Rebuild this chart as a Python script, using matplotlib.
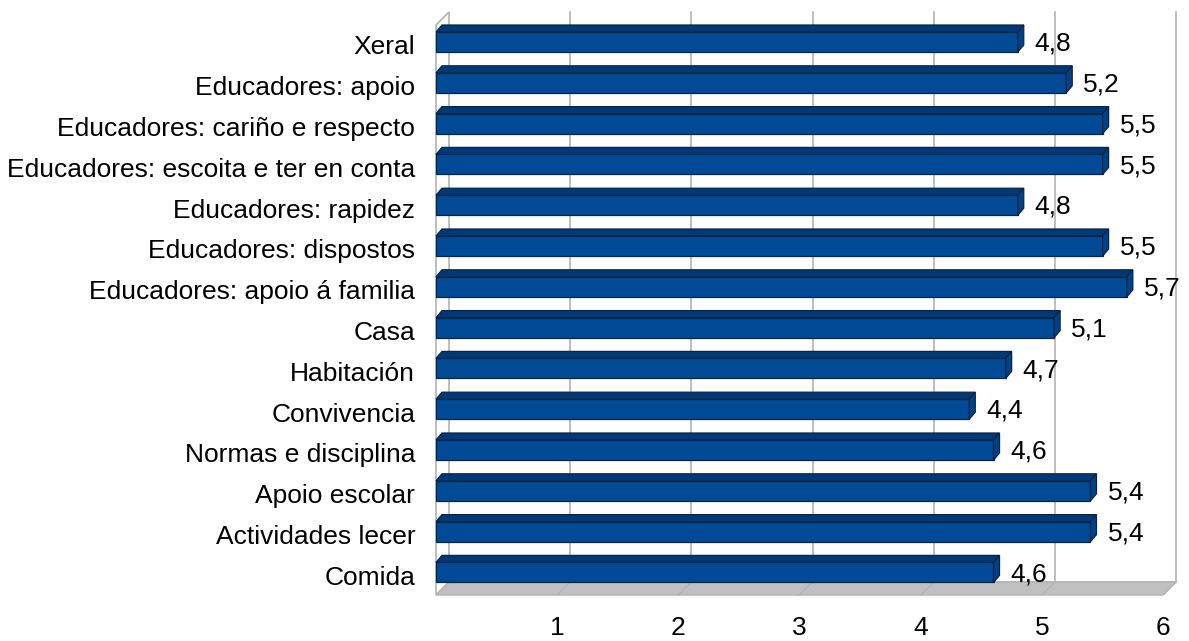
import matplotlib
matplotlib.use('Agg')
import matplotlib.pyplot as plt
from matplotlib.patches import Polygon, Rectangle

categorias = ['Xeral', 'Educadores: apoio', 'Educadores: cariño e respecto',
              'Educadores: escoita e ter en conta', 'Educadores: rapidez',
              'Educadores: dispostos', 'Educadores: apoio á familia', 'Casa',
              'Habitación', 'Convivencia', 'Normas e disciplina', 'Apoio escolar',
              'Actividades lecer', 'Comida']
valores = [4.8, 5.2, 5.5, 5.5, 4.8, 5.5, 5.7, 5.1, 4.7, 4.4, 4.6, 5.4, 5.4, 4.6]
ticks_x = [1, 2, 3, 4, 5, 6]

plt.rcParams['font.family'] = ['Liberation Sans', 'DejaVu Sans']
FS = 19

W, H = 1189, 641
fig = plt.figure(figsize=(W / 100, H / 100), dpi=100)

# eixo: orixe x en 436 px, 121.2 px por unidade; categorías cada 40.8 px
x0_px, sx = 436, 121.2
y0_px, sy = 42, 40.8
top_px, bot_px = 12, 595
ax = fig.add_axes([x0_px / W, 1 - bot_px / H, 6 * sx / W, (bot_px - top_px) / H])
y_top = (top_px - y0_px) / sy
y_bot = (bot_px - y0_px) / sy
ax.set_xlim(0, 6)
ax.set_ylim(y_bot, y_top)

# profundidade da parede e das barras
wdx, wdy = 13 / sx, 13 / sy
bdx, bdy = 6 / sx, 7 / sy
h = 20 / sy

grid_c = '#b3b3b3'
yb = y_bot - wdy
# parede do fondo
ax.add_patch(Rectangle((wdx, y_top), 6, yb - y_top, facecolor='white',
                       edgecolor='none', clip_on=False, zorder=0))
for k in ticks_x:
    ax.plot([k + wdx, k + wdx], [y_top, yb], color=grid_c, lw=1.2,
            clip_on=False, zorder=1)
ax.plot([wdx, 6 + wdx], [yb, yb], color=grid_c, lw=1.2, clip_on=False, zorder=1)
# parede esquerda
ax.add_patch(Polygon([(0, y_top + wdy), (wdx, y_top), (wdx, yb), (0, y_bot)],
                     closed=True, facecolor='white', edgecolor=grid_c, lw=1.2,
                     clip_on=False, zorder=1))
# chan
ax.add_patch(Polygon([(0, y_bot), (6, y_bot), (6 + wdx, yb), (wdx, yb)],
                     closed=True, facecolor='#c0c0c0', edgecolor='#b3b3b3', lw=1,
                     clip_on=False, zorder=1))
for k in ticks_x[:-1]:
    ax.plot([k, k + wdx], [y_bot, yb], color='#b0b0b0', lw=0.8,
            clip_on=False, zorder=1)

front_c, top_c, side_c, edge_c = '#004a96', '#003a76', '#004288', '#0b2446'
for i, (cat, v) in enumerate(zip(categorias, valores)):
    yt = i - h / 2
    ax.add_patch(Rectangle((0, yt), v, h, facecolor=front_c, edgecolor=edge_c,
                           lw=0.9, clip_on=False, zorder=3))
    ax.add_patch(Polygon([(0, yt), (v, yt), (v + bdx, yt - bdy), (bdx, yt - bdy)],
                         closed=True, facecolor=top_c, edgecolor=edge_c, lw=0.9,
                         clip_on=False, zorder=3))
    ax.add_patch(Polygon([(v, yt), (v + bdx, yt - bdy), (v + bdx, yt + h - bdy),
                          (v, yt + h)], closed=True, facecolor=side_c,
                         edgecolor=edge_c, lw=0.9, clip_on=False, zorder=3))
    ax.text(v + bdx + 11 / sx, i + 0.04, f'{v:.1f}'.replace('.', ','),
            fontsize=FS, color='black', va='center', ha='left', zorder=4)

ax.set_yticks([i + 0.07 for i in range(len(categorias))])
ax.set_yticklabels(categorias, fontsize=FS)
ax.set_xticks(ticks_x)
ax.set_xticklabels([str(t) for t in ticks_x], fontsize=FS)
ax.tick_params(axis='y', length=0, pad=15)
ax.tick_params(axis='x', length=0, pad=15)
for s in ax.spines.values():
    s.set_visible(False)
ax.patch.set_visible(False)

fig.savefig('out.png', dpi=100)
